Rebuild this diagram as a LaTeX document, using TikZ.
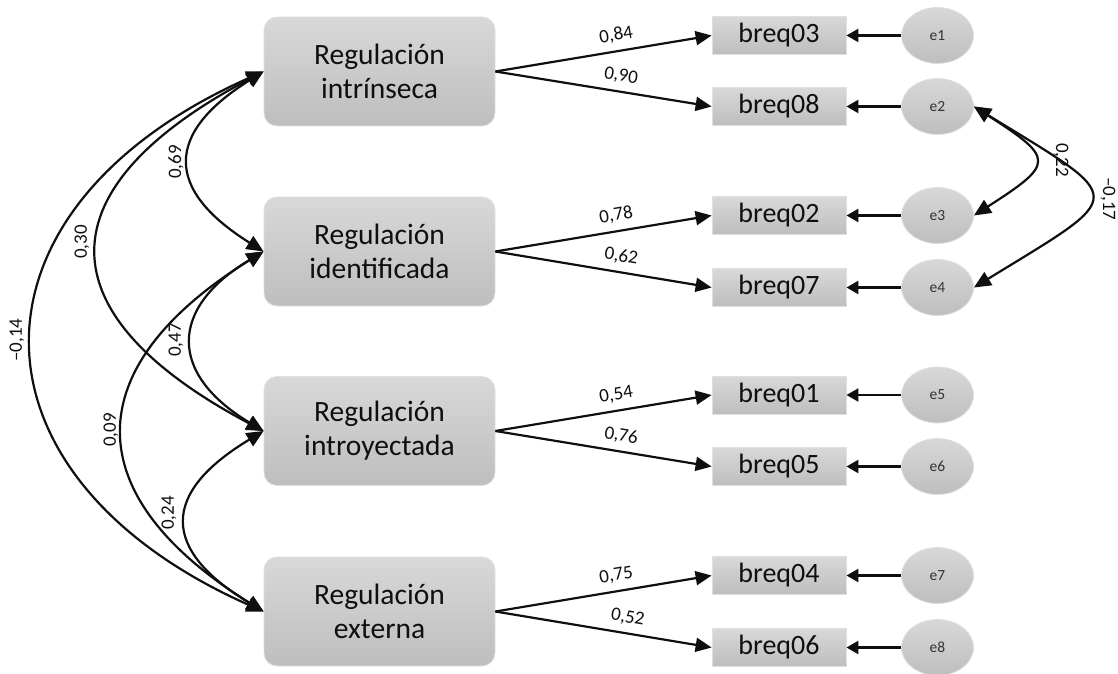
\documentclass[tikz,border=0pt]{standalone}
\usepackage{fontspec}
\setmainfont[Numbers=Lining]{Carlito}
\usetikzlibrary{arrows.meta,shapes.geometric}

\definecolor{boxtop}{RGB}{216,216,216}
\definecolor{boxbot}{RGB}{190,190,190}
\definecolor{boxline}{RGB}{224,224,224}
\definecolor{ink}{RGB}{15,15,15}

\begin{document}
\begin{tikzpicture}[x=1pt,y=1pt,
  factor/.style={rectangle, rounded corners=13pt, minimum width=231pt, minimum height=109pt,
    top color=boxtop, bottom color=boxbot, draw=boxline, line width=0.8pt, align=center,
    font=\fontsize{29.5}{34}\selectfont, text=ink, inner sep=0pt},
  indic/.style={rectangle, minimum width=134pt, minimum height=38pt,
    top color=boxtop, bottom color=boxbot, draw=boxline, line width=0.8pt,
    font=\fontsize{28}{30}\selectfont, text=ink, inner sep=0pt},
  err/.style={ellipse, minimum width=72pt, minimum height=56pt,
    top color=boxtop, bottom color=boxbot, draw=boxline, line width=0.8pt,
    font=\fontsize{15.5}{17}\selectfont, text=ink!85, inner sep=0pt},
  load/.style={line width=2.2pt, draw=ink, -{Triangle[length=16pt,width=14pt]}},
  errarrow/.style={line width=2.2pt, draw=ink, -{Triangle[length=12pt,width=13pt]}},
  cov/.style={line width=2.2pt, draw=ink,
    {Triangle[length=17pt,width=15pt]}-{Triangle[length=17pt,width=15pt]}},
  lab/.style={font=\fontsize{19}{21}\selectfont, inner sep=2pt, text=ink}
]
\useasboundingbox (0,0) rectangle (1118,673);

% latent factors
\node[factor] (F1) at (379.5,601.5) {Regulación\\intrínseca};
\node[factor] (F2) at (379.5,421.5) {Regulación\\identificada};
\node[factor] (F3) at (379.5,242)   {Regulación\\introyectada};
\node[factor] (F4) at (379.5,61.5)  {Regulación\\externa};

% observed items
\node[indic] (I03) at (779,637.5) {breq03};
\node[indic] (I08) at (779,566.5) {breq08};
\node[indic] (I02) at (779,457.5) {breq02};
\node[indic] (I07) at (779,385.5) {breq07};
\node[indic] (I01) at (779,278)   {breq01};
\node[indic] (I05) at (779,206.5) {breq05};
\node[indic] (I04) at (779,97.5)  {breq04};
\node[indic] (I06) at (779,25.5)  {breq06};

% error terms
\node[err] (E1) at (937.5,637.5) {e1};
\node[err] (E2) at (937.5,566.5) {e2};
\node[err] (E3) at (937.5,457.5) {e3};
\node[err] (E4) at (937.5,385.5) {e4};
\node[err] (E5) at (937.5,278)   {e5};
\node[err] (E6) at (937.5,206.5) {e6};
\node[err] (E7) at (937.5,97.5)  {e7};
\node[err] (E8) at (937.5,25.5)  {e8};

% factor loadings
\draw[load] (F1.east) -- node[lab, sloped, above=5pt, pos=0.57] {0,84} (I03.west);
\draw[load] (F1.east) -- node[lab, sloped, above=5pt, pos=0.57] {0,90} (I08.west);
\draw[load] (F2.east) -- node[lab, sloped, above=5pt, pos=0.57] {0,78} (I02.west);
\draw[load] (F2.east) -- node[lab, sloped, above=5pt, pos=0.57] {0,62} (I07.west);
\draw[load] (F3.east) -- node[lab, sloped, above=5pt, pos=0.57] {0,54} (I01.west);
\draw[load] (F3.east) -- node[lab, sloped, above=5pt, pos=0.57] {0,76} (I05.west);
\draw[load] (F4.east) -- node[lab, sloped, above=5pt, pos=0.57] {0,75} (I04.west);
\draw[load] (F4.east) -- node[lab, sloped, above=5pt, pos=0.60] {0,52} (I06.west);

% error paths
\draw[errarrow] (E1.west) -- (I03.east);
\draw[errarrow] (E2.west) -- (I08.east);
\draw[errarrow] (E3.west) -- (I02.east);
\draw[errarrow] (E4.west) -- (I07.east);
\draw[errarrow] (E5.west) -- (I01.east);
\draw[errarrow] (E6.west) -- (I05.east);
\draw[errarrow] (E7.west) -- (I04.east);
\draw[errarrow] (E8.west) -- (I06.east);

% factor covariances
\draw[cov] (F1.west) .. controls +(-99,-62)  and +(-99,62)  .. (F2.west);
\draw[cov] (F1.west) .. controls +(-221,-117) and +(-221,117) .. (F3.west);
\draw[cov] (F1.west) .. controls +(-308,-137) and +(-308,137) .. (F4.west);
\draw[cov] (F2.west) .. controls +(-95,-57)  and +(-95,57)  .. (F3.west);
\draw[cov] (F2.west) .. controls +(-187,-116) and +(-187,116) .. (F4.west);
\draw[cov] (F3.west) .. controls +(-103,-62) and +(-103,62) .. (F4.west);

\node[lab, rotate=90] (c12) at (176,511) {0,69};
\node[lab, rotate=90] (c13) at (82,431)  {0,30};
\node[lab, rotate=90] (c14) at (17,333)  {–0,14};
\node[lab, rotate=90] (c23) at (176,333) {0,47};
\node[lab, rotate=90] (c24) at (111,243) {0,09};
\node[lab, rotate=90] (c34) at (169,160) {0,24};

% error covariances
\draw[cov] (E2.east) .. controls +(81,-52) and +(81,52) .. (E3.east);
\draw[cov] (E2.east) .. controls +(155,-95) and +(155,95) .. (E4.east);

\node[lab, rotate=-90] (c23e) at (1061,513) {0,22};
\node[lab, rotate=-90] (c24e) at (1108,474) {–0,17};
\end{tikzpicture}
\end{document}
